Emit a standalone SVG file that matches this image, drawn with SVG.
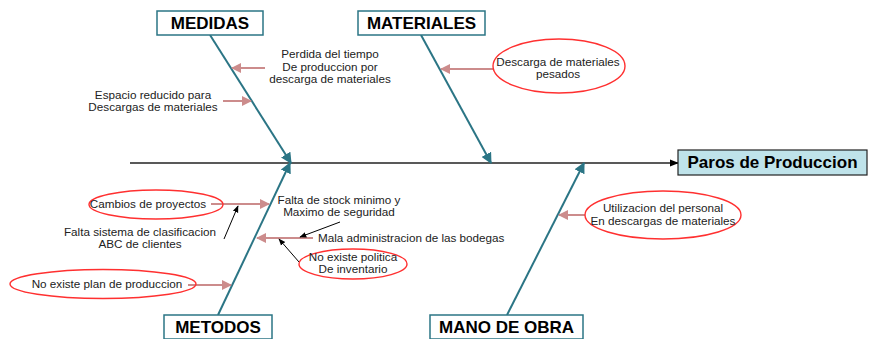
<svg xmlns="http://www.w3.org/2000/svg" width="873" height="339" viewBox="0 0 873 339">
<defs>
<style>
.box{fill:#fff;stroke:#2b7585;stroke-width:1.5}
.bt{font-family:"Liberation Sans",Arial,sans-serif;font-weight:bold;font-size:17px;fill:#000;text-anchor:middle}
.t{font-family:"Liberation Sans",Arial,sans-serif;font-size:11.7px;fill:#222;text-anchor:middle}
.ts{font-family:"Liberation Sans",Arial,sans-serif;font-size:11.7px;fill:#222}
.bone{stroke:#2b7585;stroke-width:2;fill:none}
.sub{stroke:#cc8c8c;stroke-width:2;fill:none}
.blk{stroke:#000;stroke-width:1;fill:none}
.ell{fill:none;stroke:#ff3030;stroke-width:1.4}
</style>
<marker id="mb" viewBox="0 0 10 10" refX="9" refY="5" markerWidth="5.5" markerHeight="5.5" orient="auto" markerUnits="strokeWidth"><path d="M0,0L10,5L0,10z" fill="#2b7585"/></marker>
<marker id="mp" viewBox="0 0 10 10" refX="9" refY="5" markerWidth="5" markerHeight="5" orient="auto" markerUnits="strokeWidth"><path d="M0,0L10,5L0,10z" fill="#cc8c8c"/></marker>
<marker id="mk" viewBox="0 0 10 10" refX="9" refY="5" markerWidth="7" markerHeight="7" orient="auto" markerUnits="strokeWidth"><path d="M0,1L10,5L0,9z" fill="#000"/></marker>
</defs>
<g id="connectors">
<line x1="130" y1="163" x2="678" y2="163" stroke="#222" stroke-width="1.3" marker-end="url(#mk)"/>
<line class="bone" x1="210" y1="35" x2="291" y2="163" marker-end="url(#mb)"/>
<line class="bone" x1="421" y1="35" x2="491" y2="163" marker-end="url(#mb)"/>
<line class="bone" x1="218" y1="315" x2="290" y2="163" marker-end="url(#mb)"/>
<line class="bone" x1="507" y1="315" x2="584" y2="163" marker-end="url(#mb)"/>
<line class="sub" x1="265" y1="68" x2="232" y2="68" marker-end="url(#mp)"/>
<line class="sub" x1="223" y1="101" x2="251" y2="101" marker-end="url(#mp)"/>
<line class="sub" x1="493" y1="69" x2="441" y2="69" marker-end="url(#mp)"/>
<line class="sub" x1="211" y1="204" x2="269" y2="204" marker-end="url(#mp)"/>
<line class="sub" x1="313" y1="238" x2="257" y2="238" marker-end="url(#mp)"/>
<line class="sub" x1="188" y1="285" x2="231" y2="285" marker-end="url(#mp)"/>
<line class="sub" x1="585" y1="215" x2="559" y2="215" marker-end="url(#mp)"/>
<line class="blk" x1="224" y1="239" x2="238" y2="206" marker-end="url(#mk)"/>
<line class="blk" x1="340" y1="222" x2="300" y2="237" marker-end="url(#mk)"/>
<line class="blk" x1="299" y1="262" x2="279" y2="239" marker-end="url(#mk)"/>
</g>
<g id="medidas"><rect class="box" x="157" y="11" width="106" height="24"/><text class="bt" x="210" y="29">MEDIDAS</text></g>
<g id="materiales"><rect class="box" x="358" y="11" width="127" height="24"/><text class="bt" x="421.5" y="29">MATERIALES</text></g>
<g id="metodos"><rect class="box" x="164" y="315" width="108" height="24"/><text class="bt" x="218" y="333">METODOS</text></g>
<g id="manodeobra"><rect class="box" x="430" y="315" width="153" height="24"/><text class="bt" x="506.5" y="333">MANO DE OBRA</text></g>
<g id="paros"><rect x="678" y="150" width="189" height="25" fill="#bfe3ea" stroke="#222" stroke-width="1.2"/><text class="bt" x="772.5" y="168">Paros de Produccion</text></g>
<g id="perdida"><text class="t" x="330" y="58">Perdida del tiempo</text><text class="t" x="330" y="71">De produccion por</text><text class="t" x="330" y="83">descarga de materiales</text></g>
<g id="espacio"><text class="t" x="153" y="99">Espacio reducido para</text><text class="t" x="153" y="111">Descargas de materiales</text></g>
<g id="descarga"><ellipse class="ell" cx="559" cy="66" rx="66" ry="27"/><text class="t" x="558" y="66">Descarga de materiales</text><text class="t" x="558" y="78">pesados</text></g>
<g id="cambios"><ellipse class="ell" cx="156" cy="204.5" rx="67" ry="14.5"/><text class="t" x="148" y="208">Cambios de proyectos</text></g>
<g id="faltasistema"><text class="t" x="140" y="236">Falta sistema de clasificacion</text><text class="t" x="140" y="248">ABC de clientes</text></g>
<g id="faltastock"><text class="t" x="339" y="204">Falta de stock minimo y</text><text class="t" x="339" y="216">Maximo de seguridad</text></g>
<g id="mala"><text class="ts" x="318" y="242">Mala administracion de las bodegas</text></g>
<g id="politica"><ellipse class="ell" cx="353" cy="264" rx="54" ry="15"/><text class="t" x="353" y="261">No existe politica</text><text class="t" x="353" y="273">De inventario</text></g>
<g id="plan"><ellipse class="ell" cx="103" cy="284" rx="93" ry="14.5"/><text class="t" x="107" y="288">No existe plan de produccion</text></g>
<g id="utilizacion"><ellipse class="ell" cx="663" cy="215" rx="78" ry="24"/><text class="t" x="663" y="212">Utilizacion del personal</text><text class="t" x="663" y="225">En descargas de materiales</text></g>
</svg>
